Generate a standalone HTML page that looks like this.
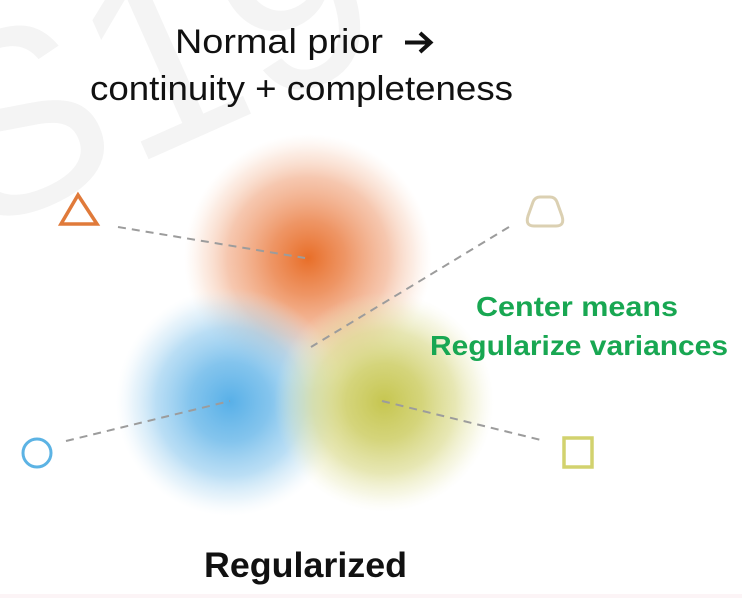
<!DOCTYPE html>
<html>
<head>
<meta charset="utf-8">
<style>
  html,body{margin:0;padding:0;background:#fff;}
  body{width:742px;height:598px;overflow:hidden;position:relative;}
  svg{display:block;}
</style>
</head>
<body>
<svg width="742" height="598" viewBox="0 0 742 598" xmlns="http://www.w3.org/2000/svg">
  <defs>
    <radialGradient id="gOr" cx="308" cy="258" r="124" gradientUnits="userSpaceOnUse">
      <stop offset="0" stop-color="rgb(232,110,40)" stop-opacity="1"/>
      <stop offset="0.3" stop-color="rgb(236,135,80)" stop-opacity="0.88"/>
      <stop offset="0.65" stop-color="rgb(240,162,122)" stop-opacity="0.6"/>
      <stop offset="0.85" stop-color="rgb(245,192,162)" stop-opacity="0.3"/>
      <stop offset="1" stop-color="rgb(250,220,200)" stop-opacity="0"/>
    </radialGradient>
    <radialGradient id="gBl" cx="230" cy="402" r="114" gradientUnits="userSpaceOnUse">
      <stop offset="0" stop-color="rgb(88,176,232)" stop-opacity="1"/>
      <stop offset="0.35" stop-color="rgb(110,186,234)" stop-opacity="0.85"/>
      <stop offset="0.65" stop-color="rgb(140,200,238)" stop-opacity="0.6"/>
      <stop offset="0.85" stop-color="rgb(180,218,242)" stop-opacity="0.3"/>
      <stop offset="1" stop-color="rgb(220,236,248)" stop-opacity="0"/>
    </radialGradient>
    <radialGradient id="gYe" cx="384" cy="402" r="110" gradientUnits="userSpaceOnUse">
      <stop offset="0" stop-color="rgb(198,198,80)" stop-opacity="1"/>
      <stop offset="0.35" stop-color="rgb(205,205,100)" stop-opacity="0.85"/>
      <stop offset="0.65" stop-color="rgb(215,215,130)" stop-opacity="0.6"/>
      <stop offset="0.85" stop-color="rgb(228,228,170)" stop-opacity="0.3"/>
      <stop offset="1" stop-color="rgb(240,240,210)" stop-opacity="0"/>
    </radialGradient>
  </defs>

  <!-- faint watermark -->
  <text x="-70" y="200" transform="rotate(-24 40 120)" font-family="Liberation Sans, sans-serif" font-size="260" fill="#f4f4f4">S19</text>

  <!-- blobs -->
  <circle cx="308" cy="258" r="124" fill="url(#gOr)"/>
  <circle cx="230" cy="402" r="114" fill="url(#gBl)"/>
  <circle cx="384" cy="402" r="110" fill="url(#gYe)"/>

  <!-- dashed connectors -->
  <g stroke="#9c9c9c" stroke-width="2" stroke-dasharray="8 6" fill="none">
    <line x1="118" y1="227" x2="305" y2="258"/>
    <line x1="509" y1="227" x2="311" y2="347"/>
    <line x1="66" y1="441" x2="230" y2="401"/>
    <line x1="382" y1="401" x2="545" y2="441"/>
  </g>

  <!-- markers -->
  <polygon points="78,195 61,224 97,224" fill="none" stroke="#e07a3a" stroke-width="3.5" stroke-linejoin="miter"/>
  <path d="M540,197 L550,197 Q555,197 557,202 L562,216 Q565,226 556,226 L534,226 Q525,226 528,216 L533,202 Q535,197 540,197 Z" fill="none" stroke="#dbd0b2" stroke-width="3"/>
  <circle cx="37" cy="453" r="14" fill="none" stroke="#5cb3e4" stroke-width="3"/>
  <rect x="564" y="438" width="28" height="29" fill="none" stroke="#d2d26e" stroke-width="3.5"/>

  <!-- title -->
  <text x="175" y="53" font-family="Liberation Sans, sans-serif" font-size="34" fill="#111" textLength="208" lengthAdjust="spacingAndGlyphs">Normal prior</text>
  <path d="M405,42.5 L430,42.5 M420,33 L430.5,42.5 L420,52" fill="none" stroke="#111" stroke-width="4" stroke-linecap="butt" stroke-linejoin="miter"/>
  <text x="90" y="100" font-family="Liberation Sans, sans-serif" font-size="34" fill="#111" textLength="423" lengthAdjust="spacingAndGlyphs">continuity + completeness</text>

  <!-- green labels -->
  <text x="476" y="316" font-family="Liberation Sans, sans-serif" font-weight="bold" font-size="28" fill="#18a752" textLength="202" lengthAdjust="spacingAndGlyphs">Center means</text>
  <text x="430" y="355" font-family="Liberation Sans, sans-serif" font-weight="bold" font-size="28" fill="#18a752" textLength="298" lengthAdjust="spacingAndGlyphs">Regularize variances</text>

  <!-- bottom label -->
  <text x="204" y="577" font-family="Liberation Sans, sans-serif" font-weight="bold" font-size="35" fill="#111" textLength="203" lengthAdjust="spacingAndGlyphs">Regularized</text>

  <!-- faint bottom band -->
  <rect x="0" y="594" width="742" height="4" fill="#fcf4f6"/>
</svg>
</body>
</html>
